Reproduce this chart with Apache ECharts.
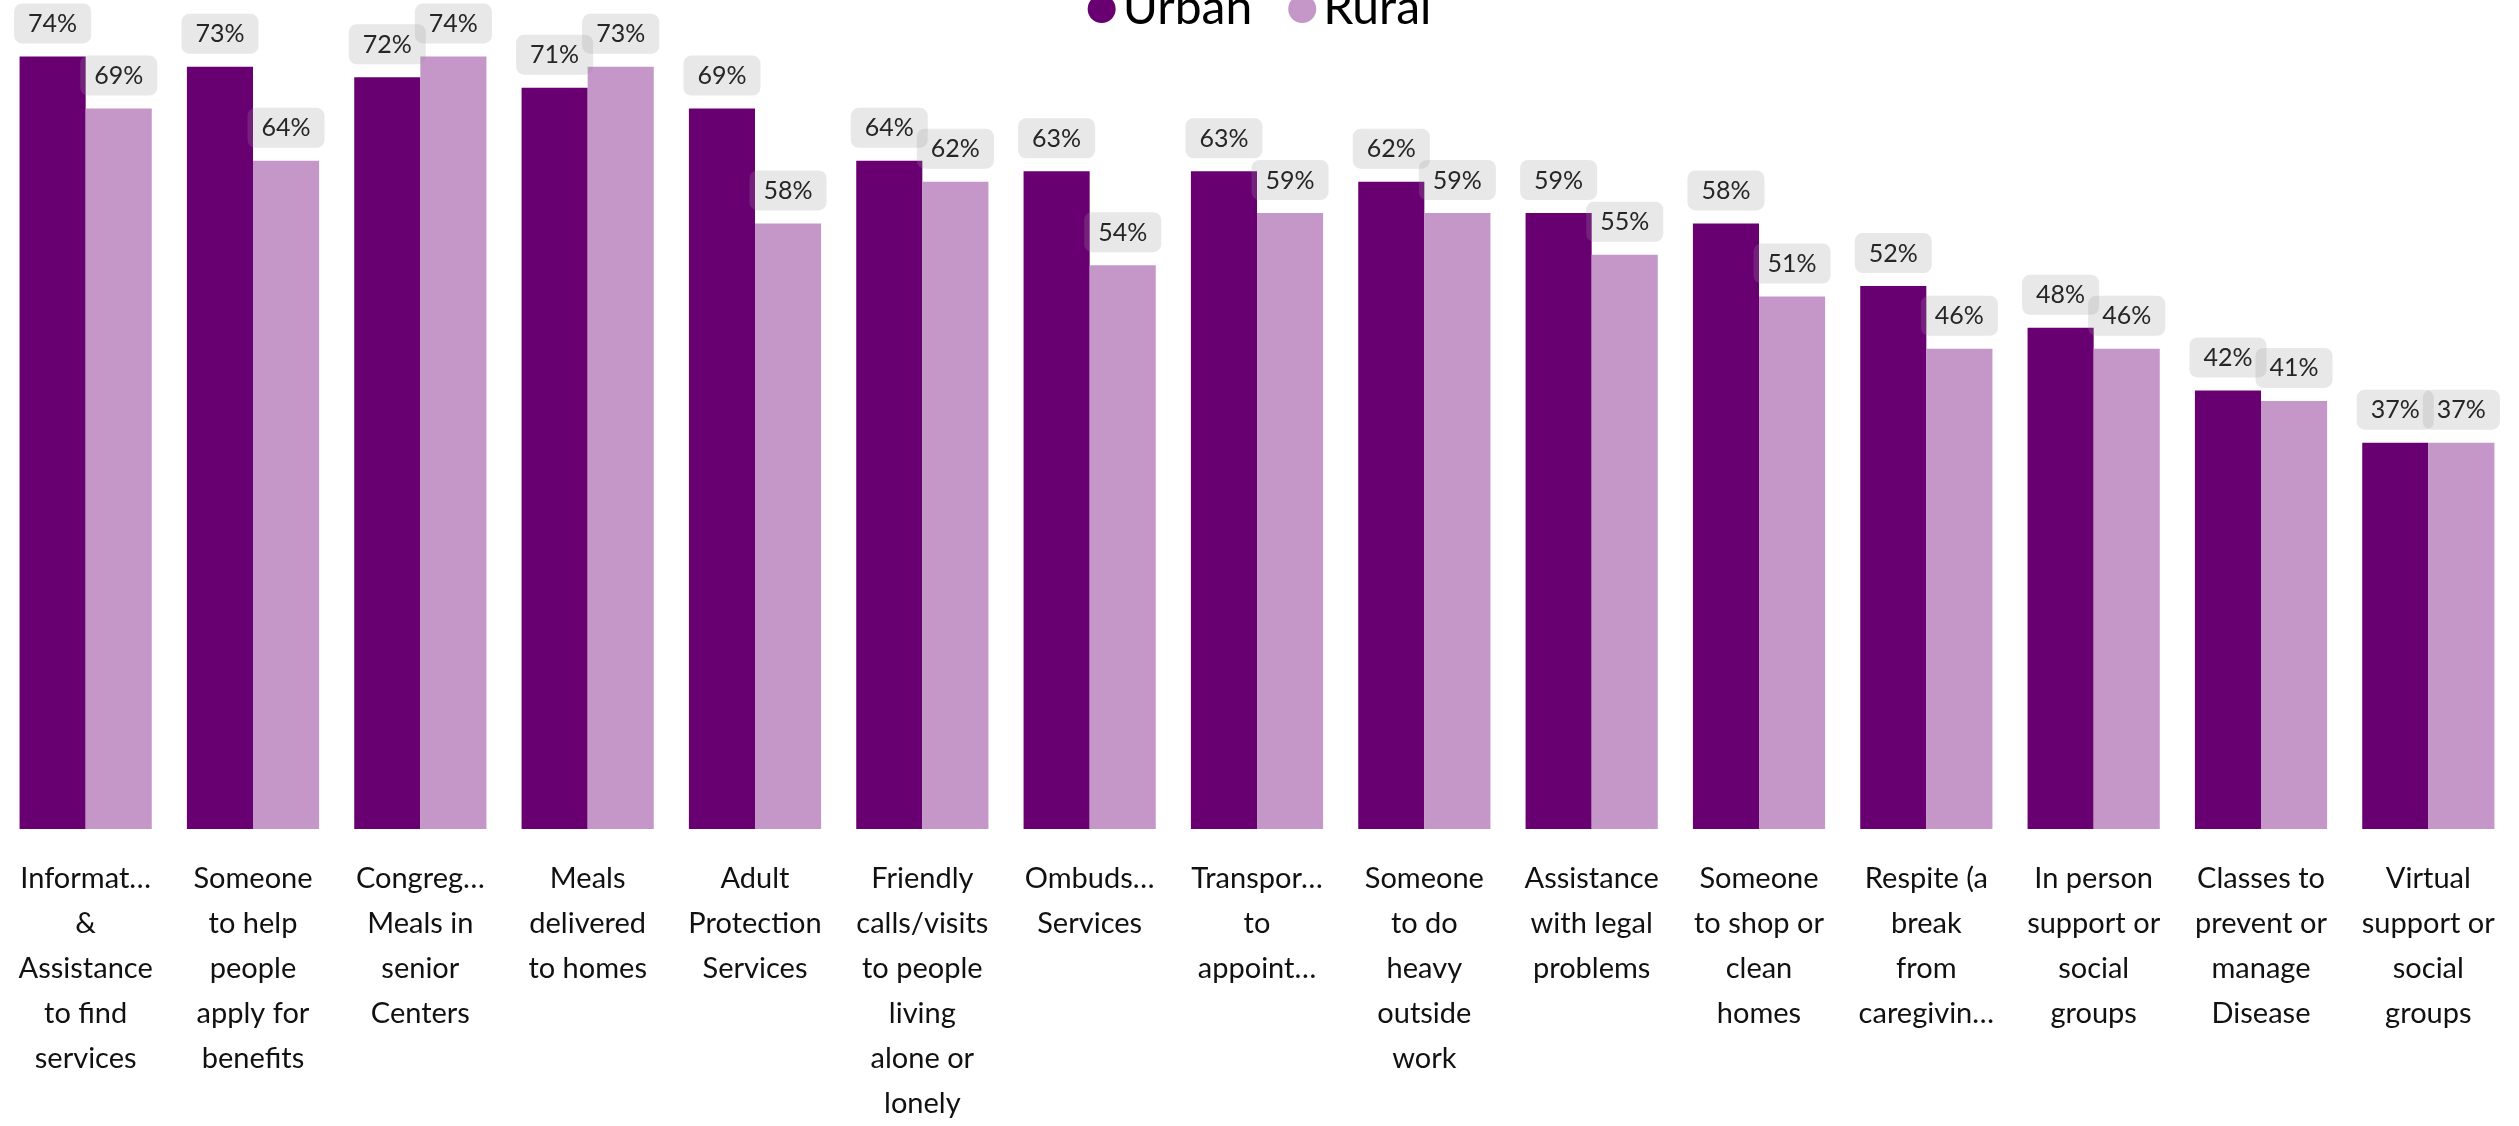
<!DOCTYPE html>
<html>
<head>
<meta charset="utf-8">
<script src="https://cdn.jsdelivr.net/npm/echarts@6/dist/echarts.min.js"></script>
<style>
html,body{margin:0;padding:0;background:#fff;}
#chart{width:2519px;height:1126px;}
</style>
</head>
<body>
<div id="chart"></div>
<script>
const categories = [
  "Informat…\n&\nAssistance\nto find\nservices",
  "Someone\nto help\npeople\napply for\nbenefits",
  "Congreg…\nMeals in\nsenior\nCenters",
  "Meals\ndelivered\nto homes",
  "Adult\nProtection\nServices",
  "Friendly\ncalls/visits\nto people\nliving\nalone or\nlonely",
  "Ombuds…\nServices",
  "Transpor…\nto\nappoint…",
  "Someone\nto do\nheavy\noutside\nwork",
  "Assistance\nwith legal\nproblems",
  "Someone\nto shop or\nclean\nhomes",
  "Respite (a\nbreak\nfrom\ncaregivin…",
  "In person\nsupport or\nsocial\ngroups",
  "Classes to\nprevent or\nmanage\nDisease",
  "Virtual\nsupport or\nsocial\ngroups"
];
const urban = [74, 73, 72, 71, 69, 64, 63, 63, 62, 59, 58, 52, 48, 42, 37];
const rural = [69, 64, 74, 73, 58, 62, 54, 59, 59, 55, 51, 46, 46, 41, 37];
const seriesNames = ["Urban", "Rural"];

const FONT = "Lato, 'Noto Sans', sans-serif";
const labelStyle = {
  show: true,
  position: 'top',
  distance: 13,
  formatter: '{c}%',
  fontFamily: FONT,
  fontSize: 25,
  color: '#262626',
  backgroundColor: 'rgba(150,150,150,0.22)',
  borderRadius: 8,
  padding: [8, 14, 7, 14],
  lineHeight: 25
};

const chart = echarts.init(document.getElementById('chart'));
chart.setOption({
  animation: false,
  textStyle: { fontFamily: FONT },
  legend: {
    data: seriesNames,
    top: -20,
    left: 'center',
    icon: 'circle',
    itemWidth: 28,
    itemHeight: 28,
    itemGap: 36,
    textStyle: { fontSize: 48, color: '#000', fontFamily: FONT, lineHeight: 48, padding: [0, 0, 0, 2] }
  },
  grid: { left: 2, right: 7, top: 0, bottom: 291, containLabel: false },
  xAxis: {
    type: 'category',
    data: categories,
    axisLine: { show: false },
    axisTick: { show: false },
    axisLabel: {
      interval: 0,
      margin: 27,
      fontSize: 29,
      lineHeight: 45,
      color: '#111',
      fontFamily: FONT,
      align: 'center'
    }
  },
  yAxis: {
    type: 'value',
    min: 0,
    max: 79.4,
    show: false,
    splitLine: { show: false }
  },
  series: [
    {
      name: seriesNames[0],
      type: 'bar',
      data: urban,
      barGap: '0%',
      barCategoryGap: '21%',
      itemStyle: { color: '#690072' },
      label: labelStyle
    },
    {
      name: seriesNames[1],
      type: 'bar',
      data: rural,
      itemStyle: { color: '#c497c8' },
      label: labelStyle
    }
  ]
});
</script>
</body>
</html>
